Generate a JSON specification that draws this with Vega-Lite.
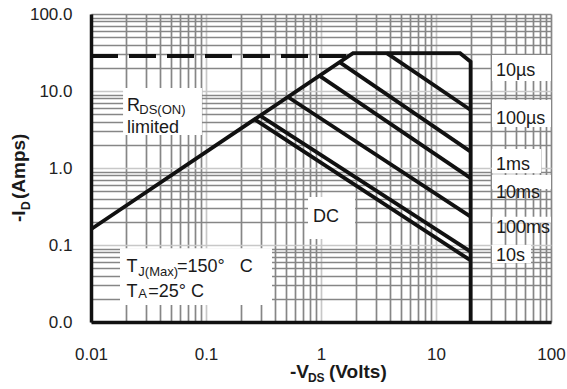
{
  "$schema": "https://vega.github.io/schema/vega-lite/v6.json",
  "width": 460,
  "height": 308,
  "autosize": {"type": "none"},
  "padding": {"left": 91, "top": 14, "right": 16, "bottom": 67},
  "background": "white",
  "config": {"view": {"stroke": null}, "font": "Liberation Sans"},
  "datasets": {
    "boxes": [
      {"x": 0.019, "x2": 0.0922, "y": 10.9, "y2": 2.68},
      {"x": 0.01787, "x2": 0.375, "y": 0.0906, "y2": 0.01663},
      {"x": 0.771, "x2": 1.977, "y": 0.42, "y2": 0.1197},
      {"x": 30.7, "x2": 100, "y": 29.3, "y2": 13.5},
      {"x": 30.7, "x2": 100, "y": 7.64, "y2": 3.4},
      {"x": 30.7, "x2": 81.9, "y": 1.766, "y2": 0.861},
      {"x": 30.7, "x2": 100, "y": 0.811, "y2": 0.533},
      {"x": 30.7, "x2": 100, "y": 0.233, "y2": 0.195},
      {"x": 30.7, "x2": 67, "y": 0.1, "y2": 0.0583}
    ],
    "curves": [
      {"s": "limit", "i": 0, "x": 0.01, "y": 0.16},
      {"s": "limit", "i": 1, "x": 1.9, "y": 31},
      {"s": "limit", "i": 2, "x": 16.2, "y": 31},
      {"s": "limit", "i": 3, "x": 20, "y": 24},
      {"s": "limit", "i": 4, "x": 20, "y": 0.01},
      {"s": "10us", "i": 0, "x": 3.73, "y": 31},
      {"s": "10us", "i": 1, "x": 20, "y": 5.66},
      {"s": "100us", "i": 0, "x": 1.46, "y": 23.5},
      {"s": "100us", "i": 1, "x": 20, "y": 1.63},
      {"s": "1ms", "i": 0, "x": 0.98, "y": 15.6},
      {"s": "1ms", "i": 1, "x": 20, "y": 0.74},
      {"s": "10ms", "i": 0, "x": 0.52, "y": 8.3},
      {"s": "10ms", "i": 1, "x": 20, "y": 0.233},
      {"s": "100ms", "i": 0, "x": 0.295, "y": 4.78},
      {"s": "100ms", "i": 1, "x": 20, "y": 0.082},
      {"s": "DC", "i": 0, "x": 0.265, "y": 4.29},
      {"s": "DC", "i": 1, "x": 20, "y": 0.063}
    ],
    "dash": [
      {"x": 0.01, "y": 28.5},
      {"x": 2.0, "y": 28.5}
    ],
    "texts": [
      {"k": "m", "t": "R", "x": 0.0206, "y": 5.49},
      {"k": "m", "t": "limited", "x": 0.0206, "y": 2.81},
      {"k": "m", "t": "T", "x": 0.0204, "y": 0.045},
      {"k": "m", "t": "=150°\u00a0\u00a0\u00a0C", "x": 0.056, "y": 0.045},
      {"k": "m", "t": "T", "x": 0.0204, "y": 0.0213},
      {"k": "m", "t": "=25°\u00a0C", "x": 0.0315, "y": 0.0213},
      {"k": "m", "t": "DC", "x": 0.851, "y": 0.201},
      {"k": "m", "t": "10µs", "x": 33.2, "y": 15.7},
      {"k": "m", "t": "100µs", "x": 33.2, "y": 3.73},
      {"k": "m", "t": "1ms", "x": 33.2, "y": 0.942},
      {"k": "m", "t": "10ms", "x": 33.2, "y": 0.408},
      {"k": "m", "t": "100ms", "x": 33.2, "y": 0.142},
      {"k": "m", "t": "10s", "x": 33.2, "y": 0.0625},
      {"k": "s", "t": "DS(ON)", "x": 0.0263, "y": 5.02},
      {"k": "s", "t": "J(Max)", "x": 0.0258, "y": 0.039},
      {"k": "s", "t": "A", "x": 0.0258, "y": 0.0203},
      {"k": "xt", "t": "-V", "x": 0.537, "y": 0.001875},
      {"k": "xt", "t": "(Volts)", "x": 1.174, "y": 0.001875},
      {"k": "xs", "t": "DS", "x": 0.77, "y": 0.001663},
      {"k": "yt", "t": "-I", "x": 0.002667, "y": 0.199},
      {"k": "yt", "t": "(Amps)", "x": 0.002667, "y": 0.3958},
      {"k": "ys", "t": "D", "x": 0.00295, "y": 0.285}
    ]
  },
  "encoding": {
    "x": {
      "field": "x",
      "type": "quantitative",
      "scale": {"type": "log", "domain": [0.01, 100], "nice": false, "zero": false},
      "axis": {
        "values": [0.01, 0.02, 0.03, 0.04, 0.05, 0.06, 0.07, 0.08, 0.09, 0.1, 0.2, 0.3, 0.4, 0.5, 0.6, 0.7, 0.8, 0.9, 1, 2, 3, 4, 5, 6, 7, 8, 9, 10, 20, 30, 40, 50, 60, 70, 80, 90, 100],
        "labelExpr": "datum.value===0.01?'0.01':datum.value===0.1?'0.1':datum.value===1?'1':datum.value===10?'10':datum.value===100?'100':''",
        "grid": true,
        "gridColor": {"condition": {"test": "datum.value===0.1||datum.value===1||datum.value===10", "value": "#c8c8c8"}, "value": "#868686"},
        "gridWidth": 1.7,
        "ticks": false,
        "tickSize": 0,
        "domainColor": "#111111",
        "domainWidth": 3.5,
        "labelFont": "Liberation Sans",
        "labelFontSize": 17,
        "labelColor": "#222222",
        "labelPadding": 24,
        "labelOverlap": false,
        "labelFlush": false,
        "title": null
      }
    },
    "y": {
      "field": "y",
      "type": "quantitative",
      "scale": {"type": "log", "domain": [0.01, 100], "nice": false, "zero": false},
      "axis": {
        "values": [0.01, 0.02, 0.03, 0.04, 0.05, 0.06, 0.07, 0.08, 0.09, 0.1, 0.2, 0.3, 0.4, 0.5, 0.6, 0.7, 0.8, 0.9, 1, 2, 3, 4, 5, 6, 7, 8, 9, 10, 20, 30, 40, 50, 60, 70, 80, 90, 100],
        "labelExpr": "datum.value===0.01?'0.0':datum.value===0.1?'0.1':datum.value===1?'1.0':datum.value===10?'10.0':datum.value===100?'100.0':''",
        "grid": true,
        "gridColor": {"condition": {"test": "datum.value===0.1||datum.value===1||datum.value===10", "value": "#c8c8c8"}, "value": "#868686"},
        "gridWidth": 1.7,
        "ticks": false,
        "tickSize": 0,
        "domainColor": "#111111",
        "domainWidth": 3.5,
        "labelFont": "Liberation Sans",
        "labelFontSize": 17,
        "labelColor": "#222222",
        "labelPadding": 19,
        "labelOverlap": false,
        "labelFlush": false,
        "title": null
      }
    }
  },
  "layer": [
    {
      "data": {"name": "boxes"},
      "mark": {"type": "rect", "color": "white"},
      "encoding": {"x2": {"field": "x2"}, "y2": {"field": "y2"}}
    },
    {
      "data": {"name": "dash"},
      "mark": {"type": "line", "color": "#111111", "strokeWidth": 3.8, "strokeDash": [27, 11], "strokeCap": "butt"},
      "encoding": {}
    },
    {
      "data": {"name": "curves"},
      "mark": {"type": "line", "color": "#111111", "strokeWidth": 3.8, "strokeJoin": "miter", "strokeCap": "butt"},
      "encoding": {"detail": {"field": "s"}, "order": {"field": "i"}}
    },
    {
      "data": {"name": "texts"},
      "transform": [{"filter": "datum.k==='m'"}],
      "mark": {"type": "text", "align": "left", "baseline": "alphabetic", "fontSize": 18, "color": "#1a1a1a", "font": "Liberation Sans"},
      "encoding": {"text": {"field": "t"}}
    },
    {
      "data": {"name": "texts"},
      "transform": [{"filter": "datum.k==='s'"}],
      "mark": {"type": "text", "align": "left", "baseline": "alphabetic", "fontSize": 13, "color": "#1a1a1a", "font": "Liberation Sans"},
      "encoding": {"text": {"field": "t"}}
    },
    {
      "data": {"name": "texts"},
      "transform": [{"filter": "datum.k==='xt'"}],
      "mark": {"type": "text", "align": "left", "baseline": "alphabetic", "fontSize": 19, "fontWeight": "bold", "color": "#1a1a1a", "font": "Liberation Sans"},
      "encoding": {"text": {"field": "t"}}
    },
    {
      "data": {"name": "texts"},
      "transform": [{"filter": "datum.k==='xs'"}],
      "mark": {"type": "text", "align": "left", "baseline": "alphabetic", "fontSize": 12, "fontWeight": "bold", "color": "#1a1a1a", "font": "Liberation Sans"},
      "encoding": {"text": {"field": "t"}}
    },
    {
      "data": {"name": "texts"},
      "transform": [{"filter": "datum.k==='yt'"}],
      "mark": {"type": "text", "align": "left", "baseline": "alphabetic", "angle": 270, "fontSize": 19, "fontWeight": "bold", "color": "#1a1a1a", "font": "Liberation Sans"},
      "encoding": {"text": {"field": "t"}}
    },
    {
      "data": {"name": "texts"},
      "transform": [{"filter": "datum.k==='ys'"}],
      "mark": {"type": "text", "align": "left", "baseline": "alphabetic", "angle": 270, "fontSize": 12, "fontWeight": "bold", "color": "#1a1a1a", "font": "Liberation Sans"},
      "encoding": {"text": {"field": "t"}}
    }
  ]
}
